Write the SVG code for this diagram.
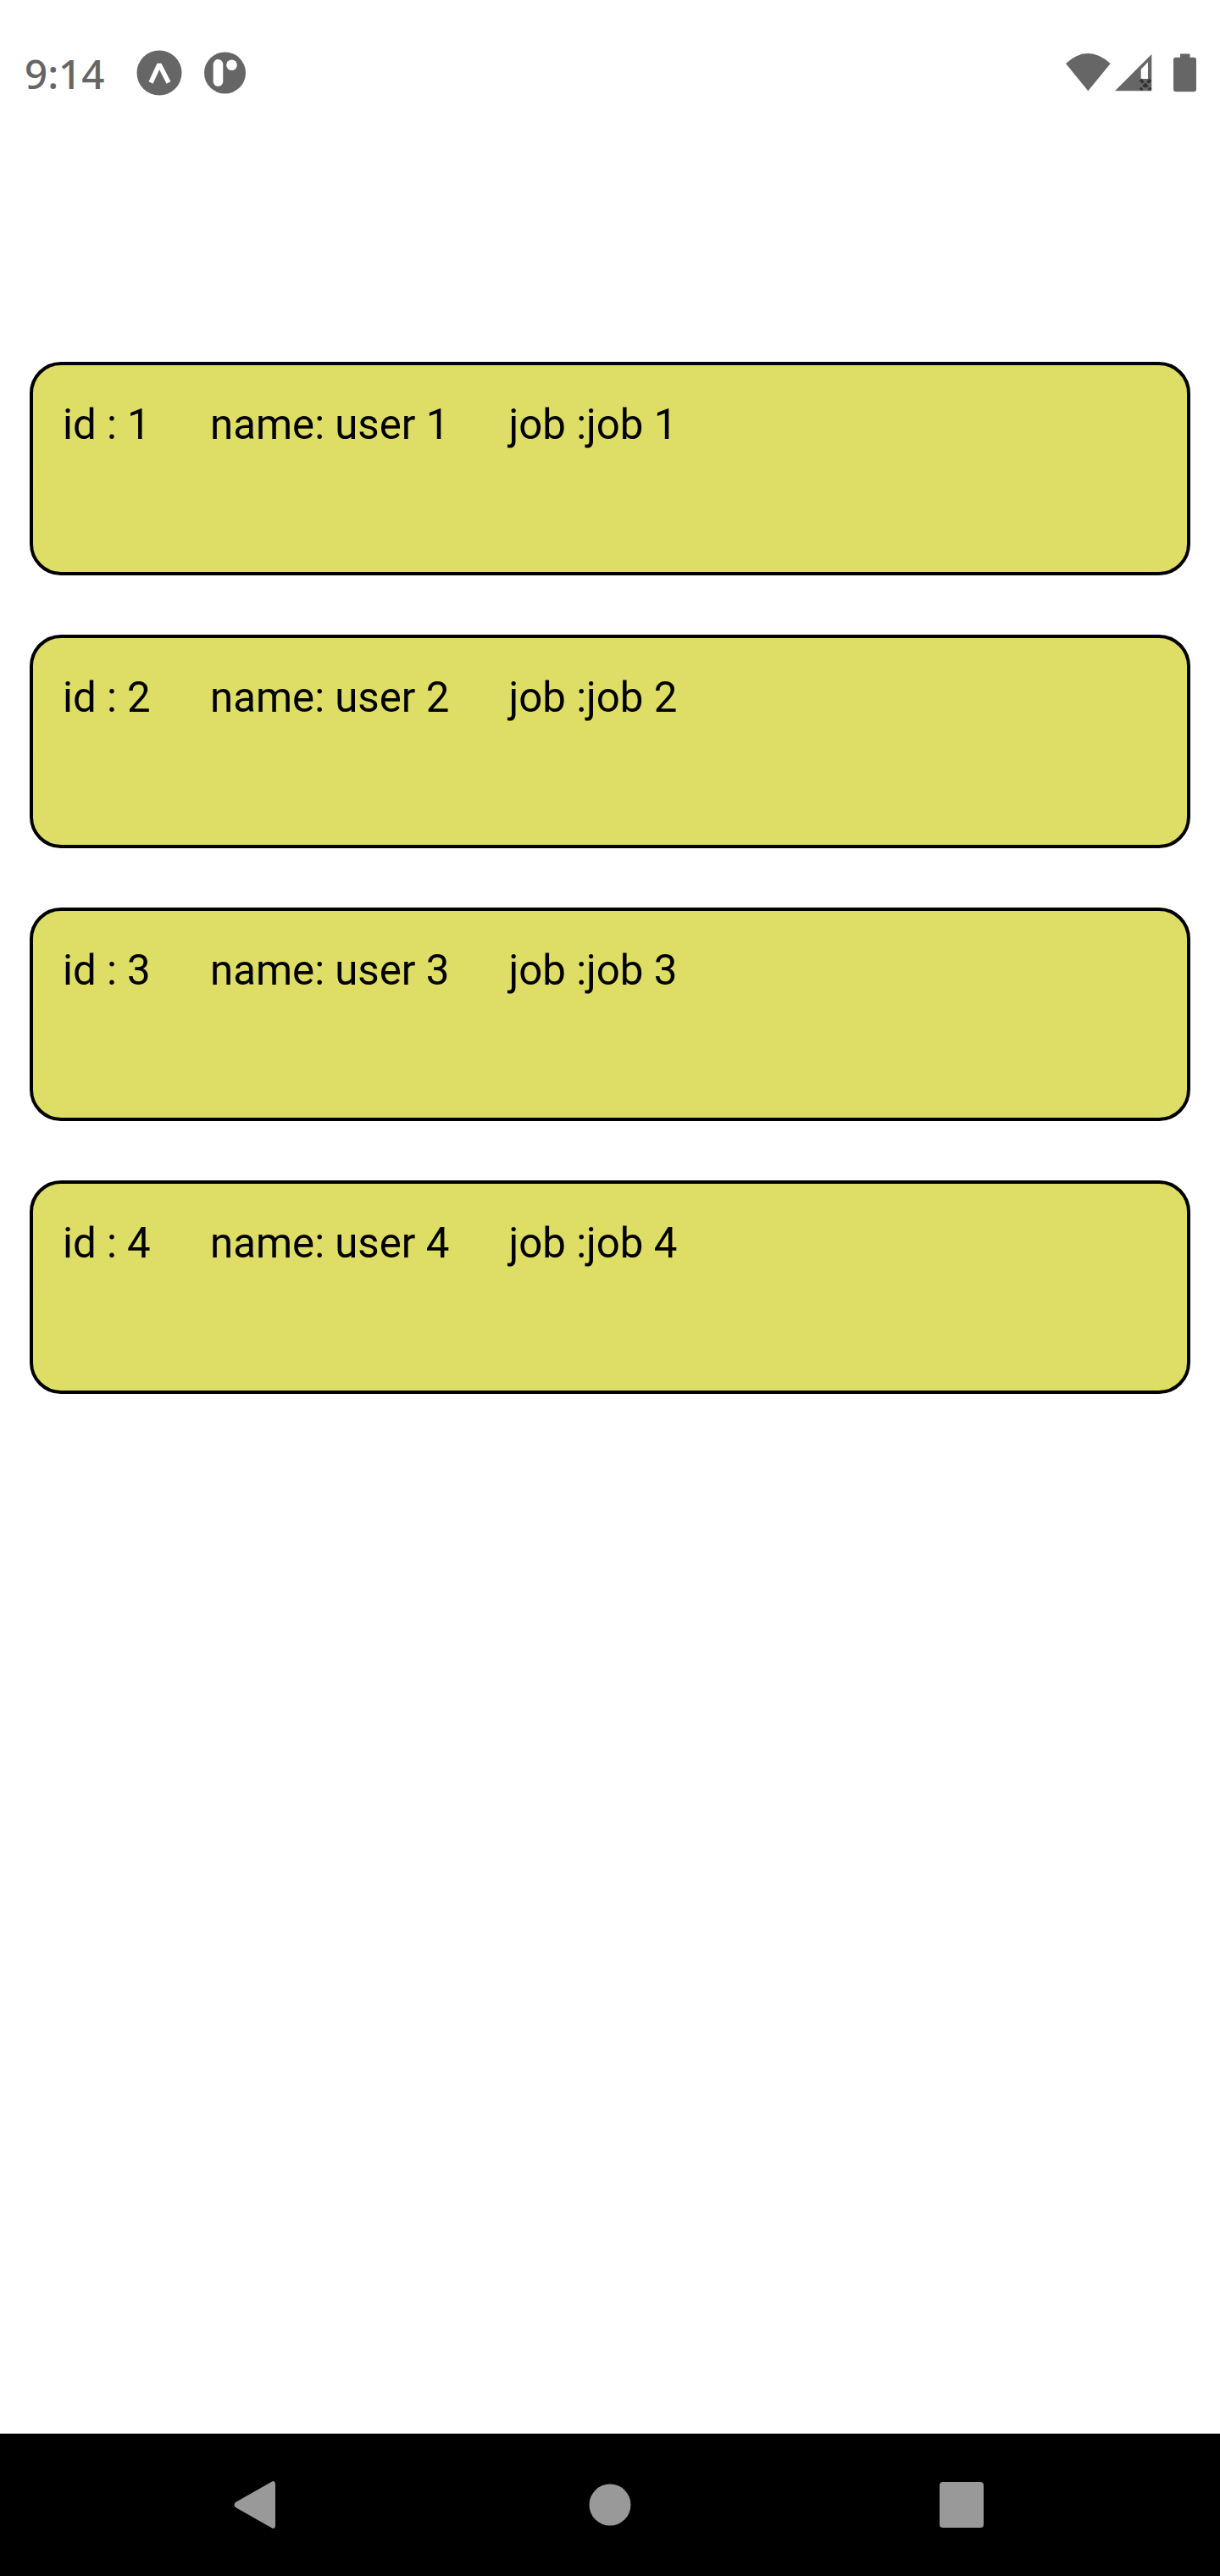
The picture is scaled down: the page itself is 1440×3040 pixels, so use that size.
<svg xmlns="http://www.w3.org/2000/svg" width="1440" height="3040" viewBox="0 0 1440 3040">
<style>
.card{fill:#dede66;stroke:#000;stroke-width:4}
.t{font-family:Roboto,"Liberation Sans",sans-serif;font-size:49.2px;fill:#000}
.st{fill:#666}
.nav{fill:#999}
</style>
<rect width="1440" height="3040" fill="#fff"/>
<g id="status-bar">
<text x="29" y="105" font-family="'Noto Sans',Roboto,sans-serif" font-size="47.500" font-weight="500" fill="#666">9:14</text>
<circle class="st" cx="188" cy="86" r="26.500"/>
<path d="M178 97.500L188 76L199 97.500" fill="none" stroke="#fff" stroke-width="5.500" stroke-linejoin="miter" stroke-miterlimit="1.500"/>
<circle class="st" cx="265.500" cy="86" r="24.500"/>
<rect x="251.700" y="70" width="11.600" height="32" rx="5.800" fill="#fff"/>
<circle cx="273.500" cy="76.700" r="6.300" fill="#fff"/>
<path class="st" d="M1258 75Q1284 51 1310.700 75L1284.300 107.300Z"/>
<path class="st" d="M1316 107.300L1359.300 64V107.300Z"/>
<path d="M1346.700 81.700L1355 73.300V93H1346.700Z" fill="#fff"/>
<path d="M1346 94L1358 106M1358 94L1346 106" stroke="#333" stroke-width="3.500" stroke-dasharray="5 2" fill="none"/>
<path class="st" d="M1393 63.500H1404.500V67.700H1409Q1412 67.700 1412 71V105Q1412 108.300 1409 108.300H1388Q1385 108.300 1385 105V71Q1385 67.700 1388 67.700H1393Z"/>
</g>
<g id="card-1"><rect class="card" x="37" y="429" width="1366" height="248" rx="35"/><text class="t" x="74" y="518">id : 1</text><text class="t" x="248" y="518">name: user 1</text><text class="t" x="600.500" y="518">job :job 1</text></g>
<g id="card-2"><rect class="card" x="37" y="751" width="1366" height="248" rx="35"/><text class="t" x="74" y="840">id : 2</text><text class="t" x="248" y="840">name: user 2</text><text class="t" x="600.500" y="840">job :job 2</text></g>
<g id="card-3"><rect class="card" x="37" y="1073" width="1366" height="248" rx="35"/><text class="t" x="74" y="1162">id : 3</text><text class="t" x="248" y="1162">name: user 3</text><text class="t" x="600.500" y="1162">job :job 3</text></g>
<g id="card-4"><rect class="card" x="37" y="1395" width="1366" height="248" rx="35"/><text class="t" x="74" y="1484">id : 4</text><text class="t" x="248" y="1484">name: user 4</text><text class="t" x="600.500" y="1484">job :job 4</text></g>
<g id="nav-bar">
<rect y="2872" width="1440" height="168" fill="#000"/>
<path class="nav" d="M322 2928Q325 2928 325 2932V2980Q325 2984 322 2984L278 2959Q275 2956 278 2953Z"/>
<circle class="nav" cx="720" cy="2956" r="24.500"/>
<rect class="nav" x="1109" y="2929" width="52" height="54" rx="4"/>
</g>
</svg>
